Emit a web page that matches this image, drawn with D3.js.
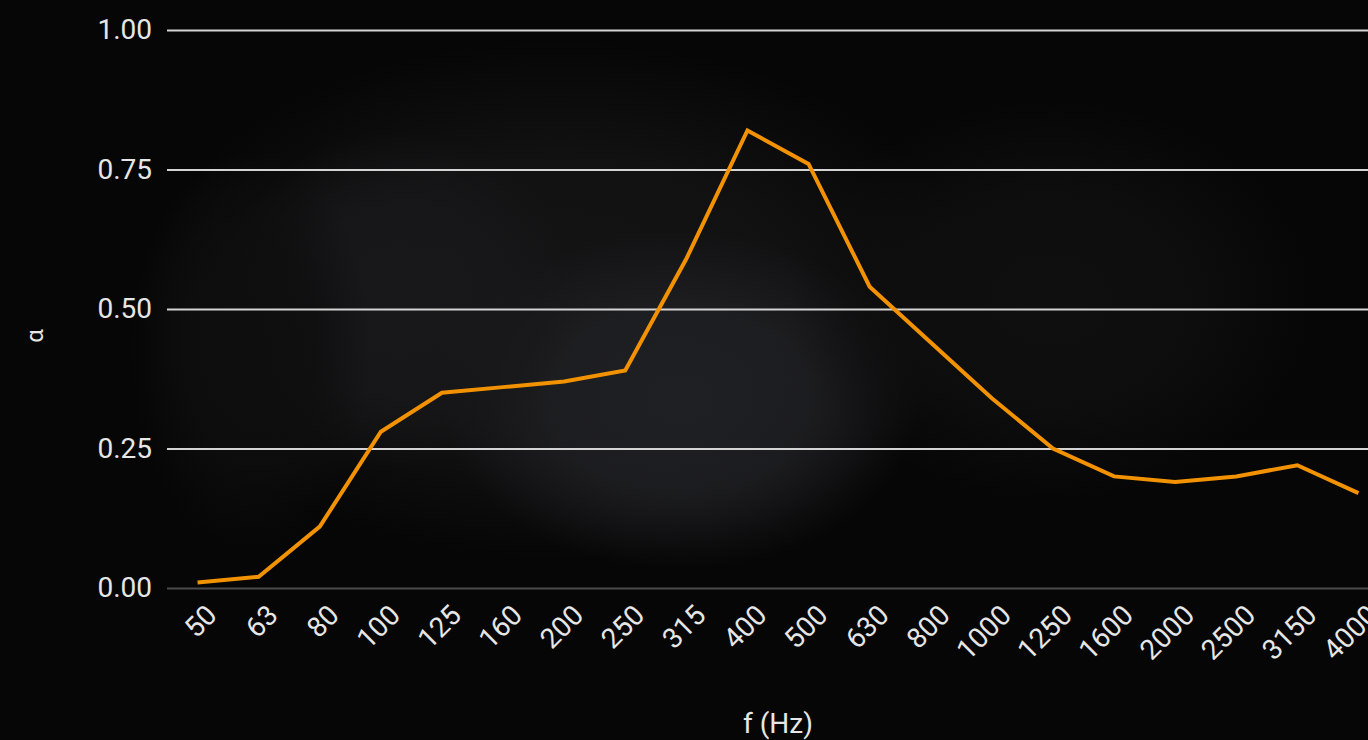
<!DOCTYPE html>
<html>
<head>
<meta charset="utf-8">
<script src="https://cdn.jsdelivr.net/npm/d3@7"></script>
<style>
html,body{margin:0;padding:0;background:#050505;overflow:hidden;}
svg{display:block;}
</style>
</head>
<body>
<svg id="chart" width="1368" height="740"></svg>
<script>
const categories = ["50","63","80","100","125","160","200","250","315","400","500","630","800","1000","1250","1600","2000","2500","3150","4000"];
const alphaValues = [0.01,0.02,0.11,0.28,0.35,0.36,0.37,0.39,0.59,0.82,0.76,0.54,0.44,0.34,0.25,0.20,0.19,0.20,0.22,0.17];
const yTicks = [0,0.25,0.5,0.75,1.0];
const xTitle = "f (Hz)";
const yTitle = "α";

const W = 1368, H = 740;
const svg = d3.select("#chart");
const defs = svg.append("defs");

// soft photo-like background made of radial glows
svg.append("rect").attr("x",0).attr("y",0).attr("width",W).attr("height",H).attr("fill","#060606");
const glows = [
  {cx:560,cy:300,rx:420,ry:260,c:"#141415",o:1},
  {cx:680,cy:400,rx:240,ry:170,c:"#1f2023",o:1},
  {cx:400,cy:300,rx:180,ry:170,c:"#18181a",o:1},
  {cx:1050,cy:300,rx:260,ry:200,c:"#0f0f10",o:1},
  {cx:250,cy:350,rx:120,ry:200,c:"#0e0e0f",o:1}
];
glows.forEach((g,i) => {
  const gr = defs.append("radialGradient").attr("id","g"+i);
  gr.append("stop").attr("offset","0%").attr("stop-color",g.c).attr("stop-opacity",1);
  gr.append("stop").attr("offset","55%").attr("stop-color",g.c).attr("stop-opacity",0.8);
  gr.append("stop").attr("offset","100%").attr("stop-color",g.c).attr("stop-opacity",0);
  svg.append("ellipse").attr("cx",g.cx).attr("cy",g.cy).attr("rx",g.rx).attr("ry",g.ry).attr("fill",`url(#g${i})`);
});

const x0 = 167, step = 61.1;
const x = d3.scaleBand().domain(categories).range([x0, x0 + step*categories.length]).padding(0);
const y = d3.scaleLinear().domain([0,1]).range([588, 30]);
const font = "Roboto, 'Liberation Sans', sans-serif";

// grid
const yAxis = d3.axisLeft(y).tickValues(yTicks).tickFormat(d3.format(".2f")).tickSize(-(W - x0)).tickPadding(15);
const gy = svg.append("g").attr("transform",`translate(${x0},0)`).call(yAxis);
gy.select(".domain").remove();
gy.selectAll(".tick line").attr("stroke", d => d===0 ? "#4a4a4a" : "#d4d4d4").attr("stroke-width", 2);
gy.selectAll(".tick text").attr("fill","#e6e6e6").attr("font-family",font).attr("font-size",28).attr("x",-15);

// x axis
const xAxis = d3.axisBottom(x).tickSize(0).tickPadding(0);
const gx = svg.append("g").attr("transform",`translate(0,588)`).call(xAxis);
gx.select(".domain").remove();
gx.selectAll(".tick text")
  .attr("fill","#e6e6e6").attr("font-family",font).attr("font-size",28)
  .attr("text-anchor","end")
  .attr("transform","translate(14,22) rotate(-45)")
  .attr("dy","0.35em").attr("y",0);

// line
const line = d3.line().x((d,i)=>x(categories[i]) + x.bandwidth()/2).y(d=>y(d));
svg.append("path").datum(alphaValues).attr("d",line)
  .attr("fill","none").attr("stroke","#f39200").attr("stroke-width",4).attr("stroke-linejoin","miter");

// titles
svg.append("text").attr("x",778).attr("y",733).attr("text-anchor","middle")
  .attr("fill","#e6e6e6").attr("font-family",font).attr("font-size",28).text(xTitle);
svg.append("text").attr("transform","translate(43,336) rotate(-90)").attr("text-anchor","middle")
  .attr("fill","#e6e6e6").attr("font-family",font).attr("font-size",24).text(yTitle);
</script>
</body>
</html>
